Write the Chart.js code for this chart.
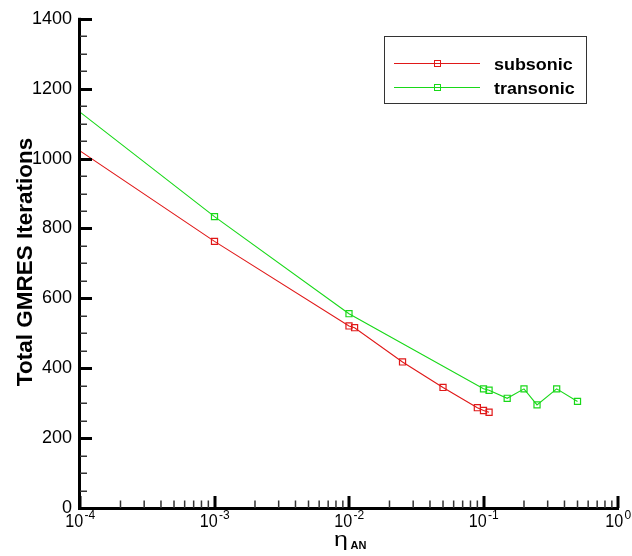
<!DOCTYPE html>
<html>
<head>
<meta charset="utf-8">
<script src="https://cdn.jsdelivr.net/npm/chart.js@4.4.1/dist/chart.umd.min.js"></script>
<style>
  html, body { margin: 0; padding: 0; background: #ffffff; }
  #wrap { width: 632px; height: 556px; position: relative; }
</style>
</head>
<body>
<div id="wrap"><canvas id="c" width="632" height="556"></canvas></div>
<script>
// ---- data ----
const subsonicEta   = [1e-4, 1e-3, 0.01, 0.011, 0.025, 0.05, 0.09, 0.1, 0.11];
const subsonicIters = [1022, 763, 521, 516, 418, 345, 287, 279, 274];
const transonicEta   = [1e-4, 1e-3, 0.01, 0.1, 0.11, 0.15, 0.2, 0.25, 0.35, 0.5];
const transonicIters = [1133, 834, 556, 341, 337, 314, 341, 295, 341, 305];
const seriesNames = ['subsonic', 'transonic'];
const xDecades = [-4, -3, -2, -1, 0];
const yTicks = [0, 200, 400, 600, 800, 1000, 1200, 1400];

const RED = '#e01818';
const GREEN = '#18d818';
const FONT = '"Liberation Sans", Arial, sans-serif';

function pts(xs, ys) { return xs.map((x, i) => ({ x: x, y: ys[i] })); }

const axesPlugin = {
  id: 'tecplotAxes',
  afterDraw(chart) {
    const ctx = chart.ctx;
    const xs = chart.scales.x, ys = chart.scales.y;
    const L = xs.getPixelForValue(Math.pow(10, xDecades[0]));
    const R = xs.getPixelForValue(Math.pow(10, xDecades[xDecades.length - 1]));
    const B = ys.getPixelForValue(yTicks[0]);
    const T = ys.getPixelForValue(yTicks[yTicks.length - 1]);
    ctx.save();
    // axis lines
    ctx.fillStyle = '#000';
    ctx.fillRect(L - 2, T - 1, 3, B - T + 2);
    ctx.fillRect(L - 2, B - 1, R - L + 3, 3);
    // y ticks
    for (let v = yTicks[0]; v <= yTicks[yTicks.length - 1]; v += 50) {
      const py = Math.round(ys.getPixelForValue(v));
      if (v % 200 === 0) {
        ctx.fillStyle = '#000';
        ctx.fillRect(L, py - 1, 12, 3);
      } else {
        ctx.fillStyle = '#333';
        ctx.fillRect(L, py - 0.5, 7, 1.5);
      }
    }
    // x ticks
    for (let d = 0; d < xDecades.length; d++) {
      const base = Math.pow(10, xDecades[d]);
      const px = Math.round(xs.getPixelForValue(base));
      ctx.fillStyle = '#000';
      ctx.fillRect(px - 1.5, B - 12, 3, 12);
      if (d < xDecades.length - 1) {
        for (let m = 2; m <= 9; m++) {
          const mx = xs.getPixelForValue(base * m);
          ctx.fillStyle = '#333';
          ctx.fillRect(mx - 0.75, B - 7.5, 1.5, 7.5);
        }
      }
    }
    // x tick labels (10 with superscript exponent)
    ctx.fillStyle = '#000';
    ctx.textBaseline = 'alphabetic';
    ctx.textAlign = 'left';
    for (let d = 0; d < xDecades.length; d++) {
      const px = xs.getPixelForValue(Math.pow(10, xDecades[d]));
      const baseTxt = '10';
      const expTxt = xDecades[d] === 0 ? '0' : String(xDecades[d]);
      ctx.font = '17px ' + FONT;
      const wb = ctx.measureText(baseTxt).width;
      ctx.font = '12px ' + FONT;
      const we = ctx.measureText(expTxt).width;
      const x0 = px - (wb + we) / 2;
      ctx.font = '17px ' + FONT;
      ctx.save();
      ctx.translate(x0, 527);
      ctx.scale(0.95, 1.1);
      ctx.fillText(baseTxt, 0, 0);
      ctx.restore();
      ctx.font = '12px ' + FONT;
      ctx.fillText(expTxt, x0 + wb + 0.5, 519);
    }
    // x title: eta_AN
    const cx = (L + R) / 2;
    ctx.save();
    ctx.translate(cx - 15, 545.5);
    ctx.scale(1.25, 1.0);
    ctx.font = '20px ' + FONT;
    ctx.fillText('\u03B7', 0, 0);
    ctx.restore();
    ctx.font = 'bold 11px ' + FONT;
    ctx.fillText('AN', cx + 1.5, 548.5);
    // y title
    ctx.save();
    ctx.translate(31.5, 262);
    ctx.rotate(-Math.PI / 2);
    ctx.textAlign = 'center';
    ctx.font = 'bold 22.5px ' + FONT;
    ctx.fillText('Total GMRES Iterations', 0, 0);
    ctx.restore();
    // legend
    ctx.strokeStyle = '#333';
    ctx.lineWidth = 1;
    ctx.strokeRect(384.5, 36.5, 202, 67);
    const rows = [{ c: RED, y: 63.5, t: seriesNames[0] }, { c: GREEN, y: 87.5, t: seriesNames[1] }];
    rows.forEach(r => {
      ctx.strokeStyle = r.c;
      ctx.beginPath();
      ctx.moveTo(394, r.y); ctx.lineTo(480, r.y);
      ctx.stroke();
      ctx.strokeRect(434.5, r.y - 3, 6, 6);
      ctx.fillStyle = '#000';
      ctx.save();
      ctx.translate(494, r.y + 6);
      ctx.scale(1.12, 1);
      ctx.font = 'bold 16px ' + FONT;
      ctx.textAlign = 'left';
      ctx.fillText(r.t, 0, 0);
      ctx.restore();
    });
    ctx.restore();
  }
};

const markerRadius = (c) => (c.raw && c.raw.x <= 1e-4 ? 0 : 4.3);

new Chart(document.getElementById('c'), {
  type: 'scatter',
  data: {
    datasets: [
      {
        label: seriesNames[0],
        data: pts(subsonicEta, subsonicIters),
        showLine: true,
        borderColor: RED,
        backgroundColor: 'rgba(0,0,0,0)',
        borderWidth: 1.1,
        pointStyle: 'rect',
        pointRadius: markerRadius,
        pointBorderWidth: 1.2,
        pointBorderColor: RED,
        tension: 0
      },
      {
        label: seriesNames[1],
        data: pts(transonicEta, transonicIters),
        showLine: true,
        borderColor: GREEN,
        backgroundColor: 'rgba(0,0,0,0)',
        borderWidth: 1.1,
        pointStyle: 'rect',
        pointRadius: markerRadius,
        pointBorderWidth: 1.2,
        pointBorderColor: GREEN,
        tension: 0
      }
    ]
  },
  options: {
    responsive: false,
    animation: false,
    devicePixelRatio: 1,
    layout: { padding: { top: 16, right: 14, left: 0, bottom: 0 } },
    plugins: { legend: { display: false }, tooltip: { enabled: false } },
    scales: {
      x: {
        type: 'logarithmic',
        min: 1e-4, max: 1,
        grid: { display: false },
        border: { display: false },
        ticks: { display: false },
        afterFit(s) { s.height = 48; }
      },
      y: {
        type: 'linear',
        min: 0, max: 1400,
        grid: { display: false, drawTicks: false },
        border: { display: false },
        ticks: {
          stepSize: 200,
          padding: 8,
          color: '#000',
          font: { family: FONT, size: 18 },
          callback: (v) => (yTicks.includes(v) ? String(v) : '')
        },
        afterFit(s) { s.width = 80; }
      }
    }
  },
  plugins: [axesPlugin]
});
</script>
</body>
</html>
